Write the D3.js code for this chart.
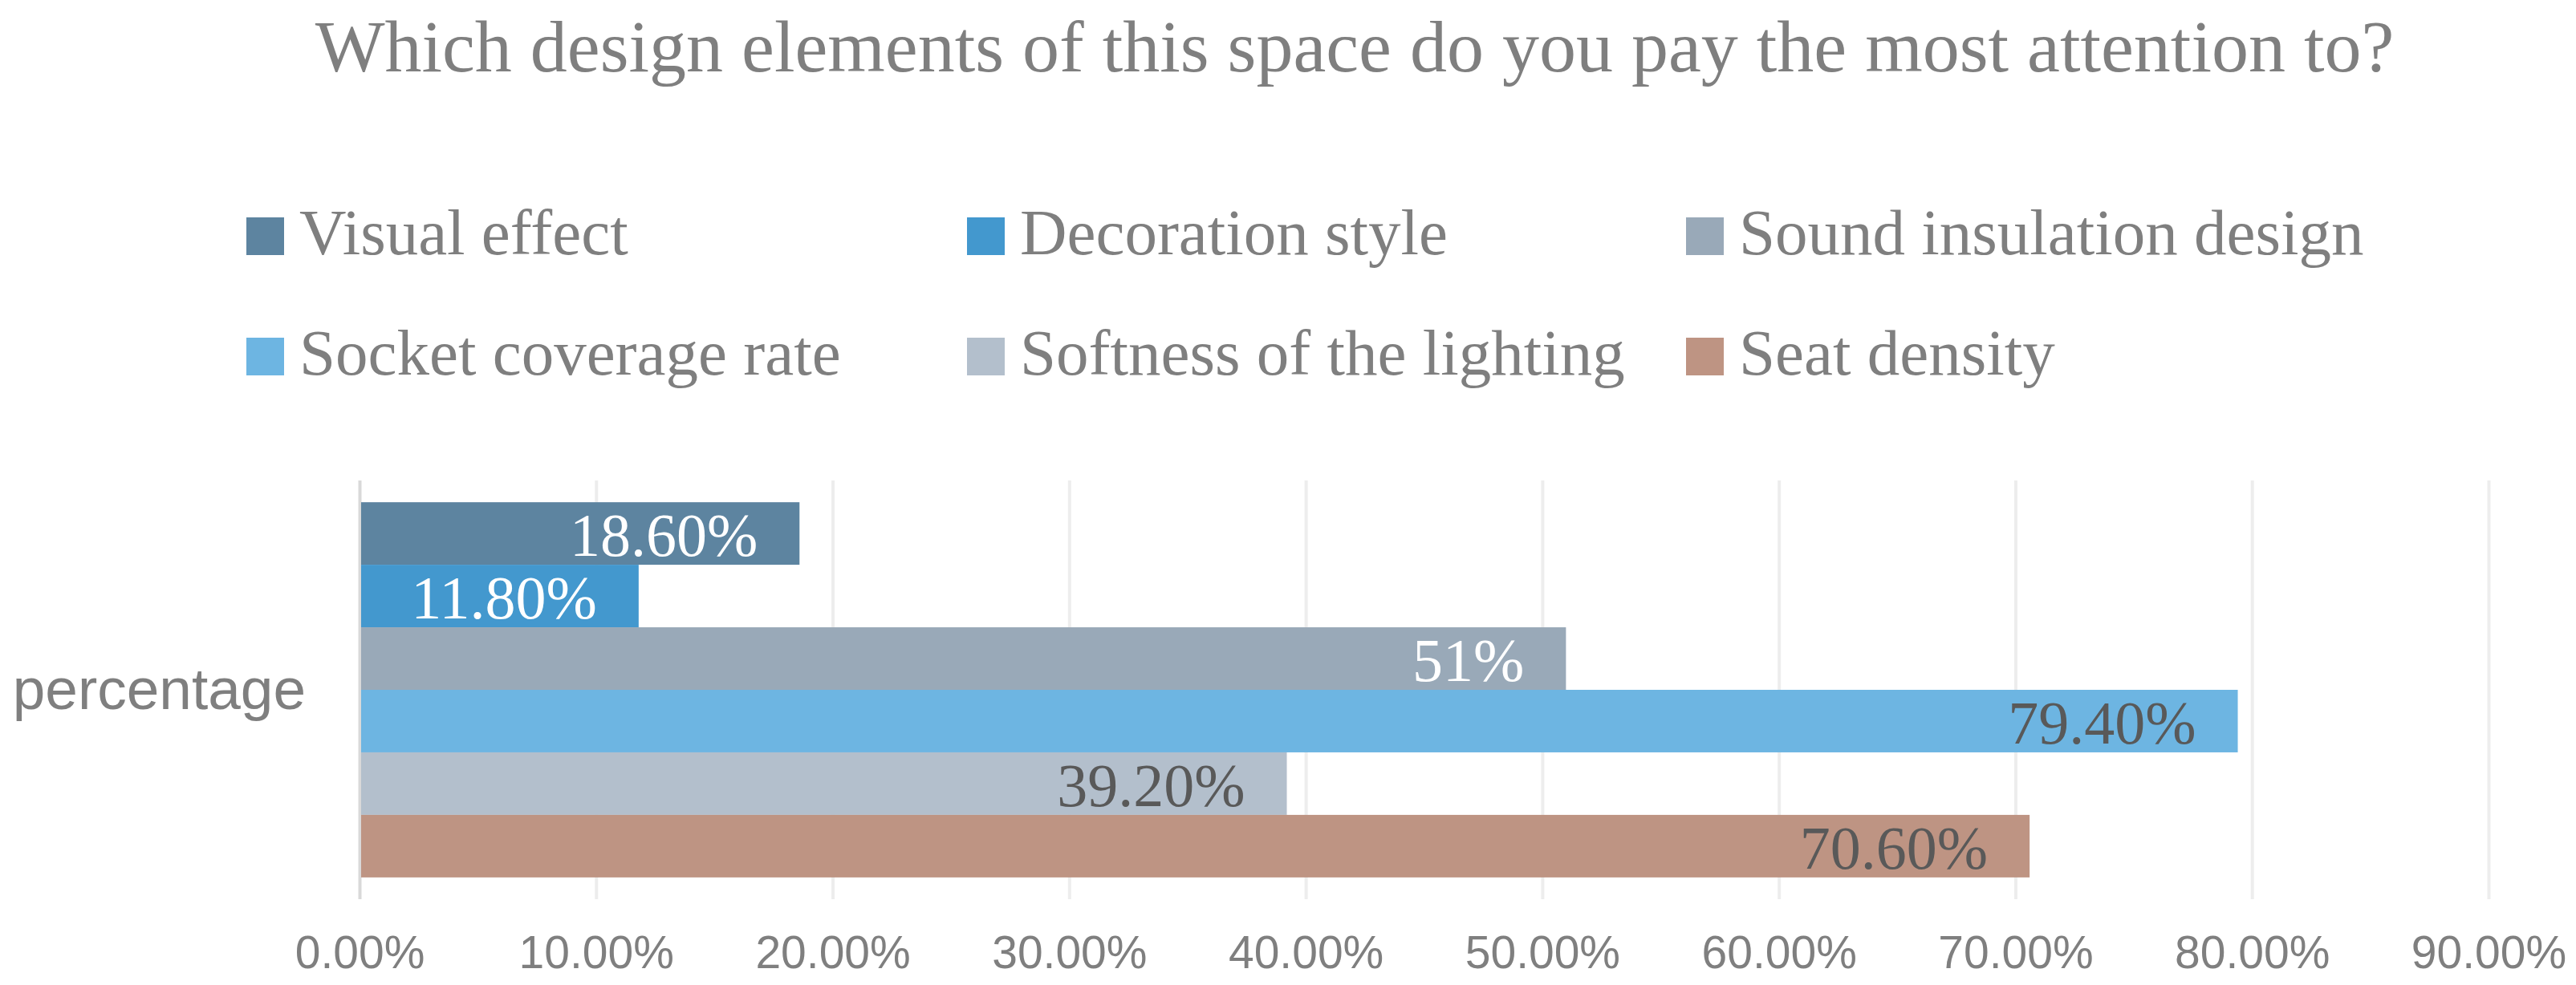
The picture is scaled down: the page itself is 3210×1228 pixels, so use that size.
<!DOCTYPE html>
<html>
<head>
<meta charset="utf-8">
<script src="https://cdn.jsdelivr.net/npm/d3@7"></script>
<style>
  body { margin: 0; background: #fff; }
  svg { display: block; }
</style>
</head>
<body>
<script>

// data
const series = ["Visual effect", "Decoration style", "Sound insulation design",
                "Socket coverage rate", "Softness of the lighting", "Seat density"];
const values = [0.186, 0.118, 0.51, 0.794, 0.392, 0.706];
const valueLabels = ["18.60%", "11.80%", "51%", "79.40%", "39.20%", "70.60%"];
const category = ["percentage"];
const xTicks = [0, 0.1, 0.2, 0.3, 0.4, 0.5, 0.6, 0.7, 0.8, 0.9];
const colors = ["#5d84a0", "#4398ce", "#99a9b8", "#6db5e2", "#b3bfcc", "#be9483"];
const labelColors = ["#ffffff", "#ffffff", "#ffffff", "#595959", "#595959", "#595959"];

const W = 3210, H = 1228;
const plot = {left: 448, right: 3101, top: 599, bottom: 1121};
const serif = "'Liberation Serif', 'DejaVu Serif', serif";
const sans = "'Liberation Sans', Arial, sans-serif";

let svg = d3.select("body").append("svg")
            .attr("width", W)
            .attr("height", H);

// title
svg.append("text")
   .attr("x", 1688)
   .attr("y", 89)
   .attr("text-anchor", "middle")
   .style("font-family", serif)
   .style("font-size", "92px")
   .style("fill", "#7f7f7f")
   .text("Which design elements of this space do you pay the most attention to?");

// legend, 3 columns x 2 rows
let legendX = [307, 1205, 2101];
let legendY = [271, 421];

let legend = svg.selectAll(".legend")
                .data(series)
                .enter()
                .append("g")
                .attr("class", "legend")
                .attr("transform", (d, i) => "translate(" + legendX[i % 3] + "," + legendY[Math.floor(i / 3)] + ")");

legend.append("rect")
      .attr("width", 47)
      .attr("height", 47)
      .style("fill", (d, i) => colors[i]);

legend.append("text")
      .attr("x", 66)
      .attr("y", 46)
      .style("font-family", serif)
      .style("font-size", "81px")
      .style("fill", "#7f7f7f")
      .text(d => d);

// scales
let x = d3.scaleLinear()
          .domain([0, 0.9])
          .range([plot.left, plot.right]);

let yCat = d3.scaleBand()
             .domain(category)
             .range([plot.top, plot.bottom])
             .paddingOuter(0.058);

let ySer = d3.scaleBand()
             .domain(series)
             .range([0, yCat.bandwidth()]);

// gridlines + tick labels
let xAxis = d3.axisBottom(x)
              .tickValues(xTicks)
              .tickFormat(d3.format(".2%"))
              .tickSize(-(plot.bottom - plot.top))
              .tickPadding(46);

let axisG = svg.append("g")
               .attr("transform", "translate(0," + plot.bottom + ")")
               .call(xAxis);

axisG.select(".domain").remove();
axisG.selectAll(".tick line")
     .attr("stroke", (d) => d === 0 ? "#d9d9d9" : "#ededed")
     .attr("stroke-width", 4);
axisG.selectAll(".tick text")
     .style("font-family", sans)
     .style("font-size", "57px")
     .style("fill", "#7f7f7f");

// category label
svg.append("text")
   .attr("x", 381)
   .attr("y", yCat("percentage") + yCat.bandwidth() / 2)
   .attr("dy", "0.33em")
   .attr("text-anchor", "end")
   .style("font-family", sans)
   .style("font-size", "73px")
   .style("fill", "#7f7f7f")
   .text(category[0]);

// bars
let barG = svg.append("g")
              .attr("transform", "translate(0," + yCat("percentage") + ")");

barG.selectAll("rect")
    .data(values)
    .enter()
    .append("rect")
    .attr("x", x(0) + 2)
    .attr("y", (d, i) => ySer(series[i]))
    .attr("width", d => x(d) - x(0) - 2)
    .attr("height", ySer.bandwidth())
    .style("fill", (d, i) => colors[i]);

// value labels, inside end
barG.selectAll(".val")
    .data(values)
    .enter()
    .append("text")
    .attr("class", "val")
    .attr("x", d => x(d) - 52)
    .attr("y", (d, i) => ySer(series[i]) + ySer.bandwidth() / 2)
    .attr("dy", "0.37em")
    .attr("text-anchor", "end")
    .style("font-family", serif)
    .style("font-size", "76px")
    .style("fill", (d, i) => labelColors[i])
    .text((d, i) => valueLabels[i]);

</script>
</body>
</html>
